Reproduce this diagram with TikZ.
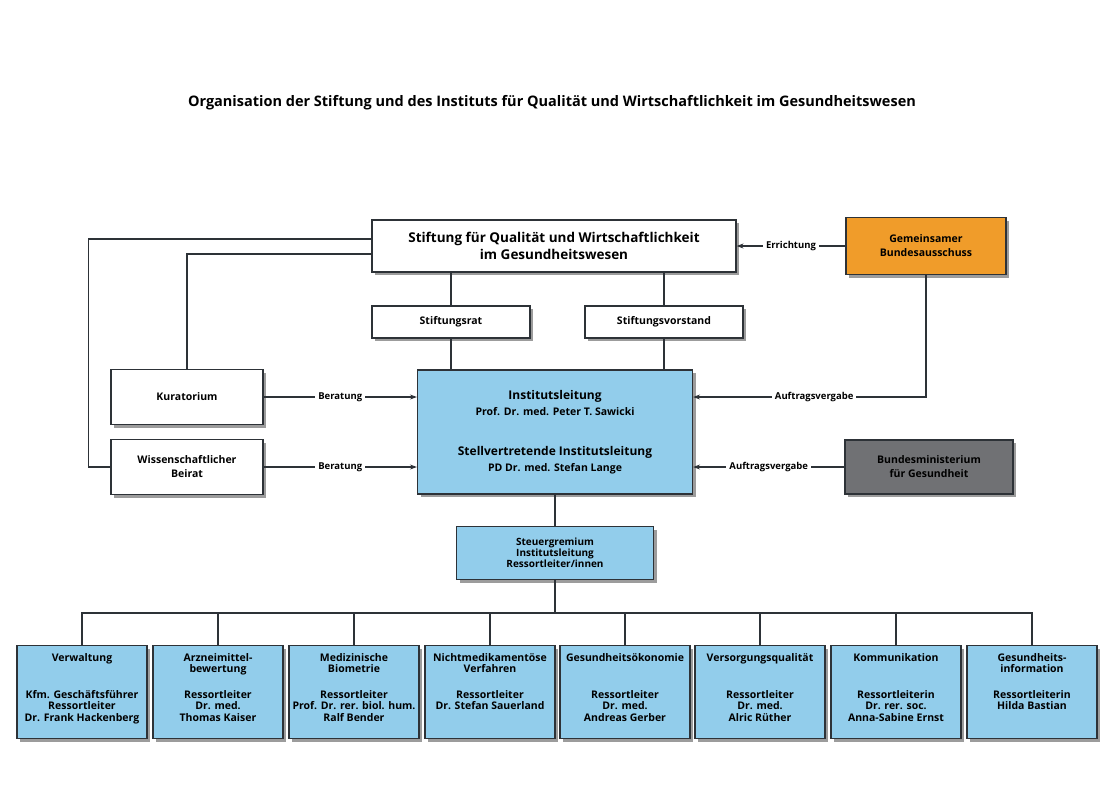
\documentclass[tikz,border=0pt]{standalone}
\usepackage{fontspec}
\setmainfont{Open Sans}
\usetikzlibrary{shadows,arrows.meta}

\definecolor{iqblue}{RGB}{146,205,235}
\definecolor{gbaorange}{RGB}{240,156,42}
\definecolor{bmggray}{RGB}{112,113,116}
\definecolor{boxline}{RGB}{45,50,55}

% Ressort-Kasten: Kopfzeilen oben, Leitung darunter
\newcommand{\deptbox}[3]{\parbox[t][78pt][t]{126pt}{\centering #1\\\strut #2\\[14pt]#3}}

\tikzset{
  box/.style={draw=boxline, line width=1.2pt, fill=white, align=center, inner sep=2pt,
    font=\bfseries\fontsize{10.5}{14}\selectfont,
    drop shadow={shadow xshift=3pt, shadow yshift=-3pt, opacity=0.55, fill=black!70}},
  dept/.style={box, fill=iqblue, minimum width=128, minimum height=93, anchor=north,
    font=\bfseries\fontsize{10.5}{11.5}\selectfont},
  conn/.style={draw=boxline, line width=1.1pt},
  lbl/.style={fill=white, inner sep=3pt, font=\bfseries\fontsize{9.5}{11}\selectfont}
}

\begin{document}
\begin{tikzpicture}[x=1pt, y=-1pt]
			\fill[white] (0,0) rectangle (1104,790);
			\useasboundingbox (0,0) rectangle (1104,790);
			\node[font=\bfseries\fontsize{14.5}{17}\selectfont] (title) at (552,103) {Organisation der Stiftung und des Instituts für Qualität und Wirtschaftlichkeit im Gesundheitswesen};
			% Stiftung und Traeger
			\node[box, minimum width=364, minimum height=52, font=\bfseries\fontsize{13.5}{17}\selectfont] (stift) at (554,246) {Stiftung für Qualität und Wirtschaftlichkeit\\im Gesundheitswesen};
			\node[box, fill=gbaorange, minimum width=160, minimum height=57] (gba) at (926,246) {Gemeinsamer\\Bundesausschuss};
			\node[box, minimum width=158, minimum height=32] (rat) at (451,322) {Stiftungsrat};
			\node[box, minimum width=158, minimum height=32] (vorstand) at (664,322) {Stiftungsvorstand};
			% Institut
			\node[box, fill=iqblue, minimum width=275, minimum height=124, font=\bfseries\fontsize{10.5}{12}\selectfont] (il) at (555,432) {{\fontsize{12}{14}\selectfont Institutsleitung}\\[4pt]Prof. Dr. med. Peter T. Sawicki\\[28pt]{\fontsize{12}{14}\selectfont Stellvertretende Institutsleitung}\\[4pt]PD Dr. med. Stefan Lange};
			\node[box, minimum width=152, minimum height=55] (kur) at (187,397) {Kuratorium};
			\node[box, minimum width=152, minimum height=55] (wiss) at (187,467) {Wissenschaftlicher\\Beirat};
			\node[box, fill=bmggray, minimum width=168, minimum height=54] (bmg) at (929,467) {Bundesministerium\\für Gesundheit};
			\node[box, fill=iqblue, minimum width=197, minimum height=53, font=\bfseries\fontsize{10}{11}\selectfont] (steuer) at (555,553) {Steuergremium\\Institutsleitung\\Ressortleiter/innen};
			% Ressorts
			\node[dept] (verw) at (82,645) {\deptbox{Verwaltung}{}{Kfm. Geschäftsführer\\Ressortleiter\\Dr. Frank Hackenberg}};
			\node[dept] (arznei) at (218,645) {\deptbox{Arzneimittel-}{bewertung}{Ressortleiter\\Dr. med.\\Thomas Kaiser}};
			\node[dept] (biom) at (354,645) {\deptbox{Medizinische}{Biometrie}{Ressortleiter\\Prof. Dr. rer. biol. hum.\\Ralf Bender}};
			\node[dept] (nmv) at (490,645) {\deptbox{Nichtmedikamentöse}{Verfahren}{Ressortleiter\\Dr. Stefan Sauerland}};
			\node[dept] (oek) at (625,645) {\deptbox{Gesundheitsökonomie}{}{Ressortleiter\\Dr. med.\\Andreas Gerber}};
			\node[dept] (vq) at (760,645) {\deptbox{Versorgungsqualität}{}{Ressortleiter\\Dr. med.\\Alric Rüther}};
			\node[dept] (komm) at (896,645) {\deptbox{Kommunikation}{}{Ressortleiterin\\Dr. rer. soc.\\Anna-Sabine Ernst}};
			\node[dept] (ginfo) at (1032,645) {\deptbox{Gesundheits-}{information}{Ressortleiterin\\Hilda Bastian}};
			\coordinate (bus) at (555,613);
			% Verbindungen
			\draw[conn, -{Stealth[length=7pt,width=5pt]}] (gba) -- node[lbl] {Errichtung} (stift);
			\draw[conn] (stift.south -| rat) -- (rat);
			\draw[conn] (stift.south -| vorstand) -- (vorstand);
			\draw[conn] (rat.south) -- (rat.south |- il.north);
			\draw[conn] (vorstand.south) -- (vorstand.south |- il.north);
			\draw[conn] ([yshift=7pt]stift.west) -| ([xshift=-22pt]wiss.west) -- (wiss.west);
			\draw[conn] ([yshift=-8pt]stift.west) -| (kur.north);
			\draw[conn, -{Stealth[length=7pt,width=5pt]}] (kur) -- node[lbl] {Beratung} (kur -| il.west);
			\draw[conn, -{Stealth[length=7pt,width=5pt]}] (wiss) -- node[lbl] {Beratung} (wiss -| il.west);
			\draw[conn, -{Stealth[length=7pt,width=5pt]}] (gba.south) |- node[lbl, pos=0.74] {Auftragsvergabe} (kur -| il.east);
			\draw[conn, -{Stealth[length=7pt,width=5pt]}] (bmg) -- node[lbl] {Auftragsvergabe} (bmg -| il.east);
			\draw[conn] (il.south) -- (steuer.north);
			\draw[conn] (steuer.south) -- (bus);
			\draw[conn] (verw.north) |- (ginfo.north |- bus) -- (ginfo.north);
			\draw[conn] (arznei.north) -- (arznei.north |- bus);
			\draw[conn] (biom.north) -- (biom.north |- bus);
			\draw[conn] (nmv.north) -- (nmv.north |- bus);
			\draw[conn] (oek.north) -- (oek.north |- bus);
			\draw[conn] (vq.north) -- (vq.north |- bus);
			\draw[conn] (komm.north) -- (komm.north |- bus);
		\end{tikzpicture}
\end{document}
